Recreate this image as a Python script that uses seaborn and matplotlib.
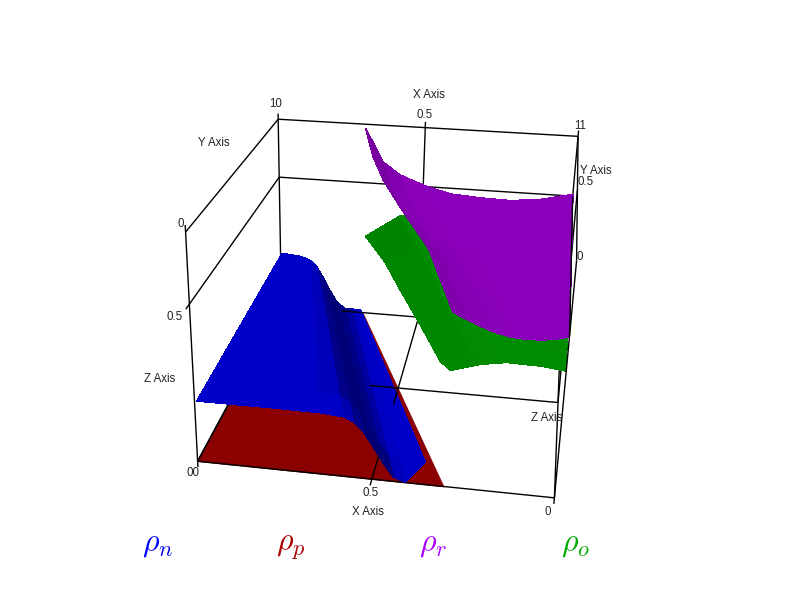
import numpy as np
import matplotlib
matplotlib.use("Agg")
import matplotlib.pyplot as plt
from matplotlib.colors import to_rgb
from mpl_toolkits.mplot3d.art3d import Line3DCollection
import seaborn as sns

sns.set_theme(style="white", font="Liberation Sans", rc={"mathtext.fontset": "cm"})

Z_TOP = 0.71

# surfaces: x and z per y station
red_y = [0.0, 1.0]
red_x = [[0.0, 0.699], [0.0, 0.298]]
red_z = [[0.0, 0.0], [0.0, 0.0]]

blue_y = [0.0, 0.104, 1.0]
blue_x = [[0.007, 0.223, 0.354, 0.418, 0.446, 0.474, 0.502, 0.531, 0.559, 0.593, 0.593],
          [0.007, 0.207, 0.328, 0.388, 0.416, 0.443, 0.471, 0.500, 0.528, 0.561, 0.635],
          [0.006, 0.071, 0.107, 0.132, 0.153, 0.178, 0.204, 0.233, 0.259, 0.275, 0.291]]
blue_z = [[0.200, 0.201, 0.200, 0.194, 0.181, 0.152, 0.107, 0.057, 0.015, 0.002, 0.002],
          [0.201, 0.201, 0.199, 0.191, 0.175, 0.144, 0.099, 0.052, 0.014, 0.003, 0.003],
          [0.210, 0.204, 0.191, 0.166, 0.128, 0.079, 0.033, 0.011, 0.010, 0.010, 0.009]]

purple_y = [0.0, 0.223, 0.527, 0.742, 0.882, 1.0]
purple_x = [[0.702, 0.736, 0.763, 0.802, 0.854, 0.893, 0.931, 0.969, 1.0],
            [0.610, 0.650, 0.684, 0.732, 0.794, 0.847, 0.900, 0.951, 1.0],
            [0.488, 0.536, 0.579, 0.640, 0.714, 0.786, 0.858, 0.929, 1.0],
            [0.402, 0.455, 0.506, 0.575, 0.658, 0.744, 0.829, 0.913, 1.0],
            [0.346, 0.403, 0.458, 0.533, 0.621, 0.716, 0.810, 0.902, 1.0],
            [0.301, 0.361, 0.420, 0.499, 0.592, 0.693, 0.794, 0.894, 1.0]]
purple_z = [[0.540, 0.523, 0.511, 0.494, 0.481, 0.479, 0.480, 0.487, 0.496],
            [0.614, 0.567, 0.542, 0.515, 0.492, 0.484, 0.480, 0.486, 0.498],
            [0.608, 0.542, 0.515, 0.494, 0.476, 0.473, 0.473, 0.483, 0.501],
            [0.612, 0.530, 0.501, 0.481, 0.466, 0.466, 0.468, 0.480, 0.503],
            [0.637, 0.541, 0.507, 0.485, 0.467, 0.466, 0.467, 0.480, 0.505],
            [0.693, 0.579, 0.536, 0.505, 0.479, 0.472, 0.469, 0.480, 0.506]]

green_y = [0.0, 0.074, 0.276, 0.504, 0.696, 1.0]
green_x = [[0.703, 0.781, 0.846, 0.936, 1.0],
           [0.669, 0.751, 0.824, 0.925, 1.0],
           [0.588, 0.678, 0.773, 0.897, 1.0],
           [0.497, 0.596, 0.716, 0.866, 1.0],
           [0.420, 0.527, 0.667, 0.839, 1.0],
           [0.306, 0.423, 0.595, 0.800, 1.0]]
green_z = [[0.368, 0.394, 0.406, 0.404, 0.396],
           [0.350, 0.386, 0.402, 0.401, 0.392],
           [0.351, 0.393, 0.406, 0.398, 0.381],
           [0.346, 0.397, 0.408, 0.393, 0.369],
           [0.347, 0.406, 0.412, 0.390, 0.359],
           [0.300, 0.385, 0.402, 0.381, 0.342]]

surface_colors = sns.color_palette(["#8b0000", "#0000c8", "#008c00", "#8c00bc"])
legend_colors = sns.color_palette(["#0000ff", "#aa0000", "#aa00ff", "#00aa00"])
legend_labels = [r"$\rho_n$", r"$\rho_p$", r"$\rho_r$", r"$\rho_o$"]

# box corners/grid crossings in data units and where they sit in the image
box_points = [(0, 0, 0), (1, 0, 0), (0, 1, 0), (1, 1, 0), (0, 0, Z_TOP), (1, 0, Z_TOP), (0, 1, Z_TOP), (1, 1, Z_TOP),
              (0, 0, .5), (0, 1, .5), (1, 1, .5), (.5, 0, 0), (.5, 1, 0), (.5, 1, Z_TOP), (.5, 1, .5), (1, .5, 0)]
box_pixels = [(199, 462), (553, 499), (283, 305), (561, 329), (185, 238), (577, 252), (278, 120), (579, 142),
              (189, 303), (278, 173), (574, 195), (373, 480), (417, 318), (425, 130), (423, 183), (557, 403)]

A, b = [], []
for (x, y, z), (u, v) in zip(box_points, box_pixels):
    A.append([x, y, z, 1, 0, 0, 0, 0, -u * x, -u * y, -u * z])
    A.append([0, 0, 0, 0, x, y, z, 1, -v * x, -v * y, -v * z])
    b += [u, v]
h = np.linalg.lstsq(np.array(A, float), np.array(b, float), rcond=None)[0]
M = np.array([h[:4], h[4:8], [0, 1, -2, 0], [h[8], h[9], h[10], 1]])

fig = plt.figure(figsize=(8, 6), dpi=100)
ax = fig.add_axes([0, -1 / 6, 1, 4 / 3], projection="3d", computed_zorder=False)
ax.set_axis_off()
ax.patch.set_visible(False)
ax.get_proj = lambda: M
ax.viewLim.intervalx = (0, 800)
ax.viewLim.intervaly = (700, -100)


def surface(ys, xs, zs, color, zorder, strength=0.55):
    X = np.array(xs)
    Y = np.tile(np.array(ys)[:, None], (1, X.shape[1]))
    Z = np.array(zs)
    d1 = np.stack([X[1:, 1:] - X[:-1, :-1], Y[1:, 1:] - Y[:-1, :-1], Z[1:, 1:] - Z[:-1, :-1]], axis=-1)
    d2 = np.stack([X[1:, :-1] - X[:-1, 1:], Y[1:, :-1] - Y[:-1, 1:], Z[1:, :-1] - Z[:-1, 1:]], axis=-1)
    n = np.cross(d1, d2)
    norm = np.linalg.norm(n, axis=-1)
    nz = np.abs(n[..., 2]) / np.where(norm > 0, norm, 1)
    shade = 1 - strength * (1 - nz ** 2)
    faces = np.dstack([shade[..., None] * np.array(to_rgb(color)), np.ones(shade.shape)])
    ax.plot_surface(X, Y, Z, facecolors=faces, rstride=1, cstride=1, shade=False,
                    linewidth=0.5, antialiased=False, zorder=zorder)


def edge(p, q, zorder=3):
    ax.add_collection3d(Line3DCollection([[p, q]], colors="black", linewidths=1.0, zorder=zorder), autolim=False)


T = Z_TOP
# under everything
edge((0, 1, 0), (0, 1, T + 0.02))
edge((.5, 1, 0.5), (.5, 1, T + 0.02))
edge((0, 1, T), (1, 1, T))
edge((0, 1, T), (0, 0, T))
edge((0, 1, .5), (1, 1, .5))
edge((0, 1, .5), (0, -0.03, .5))
edge((0, 0, -0.02), (0, 0, T + 0.02))
edge((1, 1, 0), (1, 1, T))
edge((1, .5, 0), (1, .5, T))
edge((0, 0, 0), (0, 1, 0))
edge((1, 0, 0), (1, 1, 0))
edge((.5, 1, 0), (.5, 1, .5))

surface(red_y, red_x, red_z, surface_colors[0], 2, strength=0)
edge((0, 0, 0), (1, 0, 0), zorder=3)
edge((.5, -0.03, 0), (.5, 0.18, 0), zorder=3)
edge((0, 0, 0), (0, 0.42, 0), zorder=3)
surface(blue_y, blue_x, blue_z, surface_colors[1], 4)
# floor lines that show through the thin part of the blue sheet
edge((.22, 1, 0), (1, 1, 0), zorder=5)
edge((.41, .5, 0), (1, .5, 0), zorder=5)
edge((.5, 1, 0), (.5, .4, 0), zorder=5)
surface(green_y, green_x, green_z, surface_colors[2], 6, strength=0.2)
surface(purple_y, purple_x, purple_z, surface_colors[3], 7, strength=0.2)
edge((1, 0, -0.02), (1, 0, T), zorder=8)
edge((1, 1, T), (1, 0, T), zorder=8)
edge((1, 1, T), (1, 1, T + 0.02), zorder=8)
edge((1, 1, .5), (1, 0, .5), zorder=8)


def label(px, py, s):
    fig.text(px / 800, 1 - py / 600, s, fontsize=8.3, color="#222222", ha="center", va="center")


label(276, 104, "10")
label(181, 224, "0")
label(214, 143, "Y Axis")
label(429, 95, "X Axis")
label(425, 115, "0.5")
label(580, 126, "11")
label(596, 171, "Y Axis")
label(586, 182, "0.5")
label(580, 257, "0")
label(175, 317, "0.5")
label(160, 379, "Z Axis")
label(193, 473, "00")
label(371, 493, "0.5")
label(368, 512, "X Axis")
label(547, 418, "Z Axis")
label(548, 512, "0")

for s, c, px in zip(legend_labels, legend_colors, [142, 276, 419, 561]):
    fig.text(px / 800, 1 - 551 / 600, s, fontsize=23, color=c, ha="left", va="baseline")

fig.savefig("out.png", dpi=100, facecolor="white")
